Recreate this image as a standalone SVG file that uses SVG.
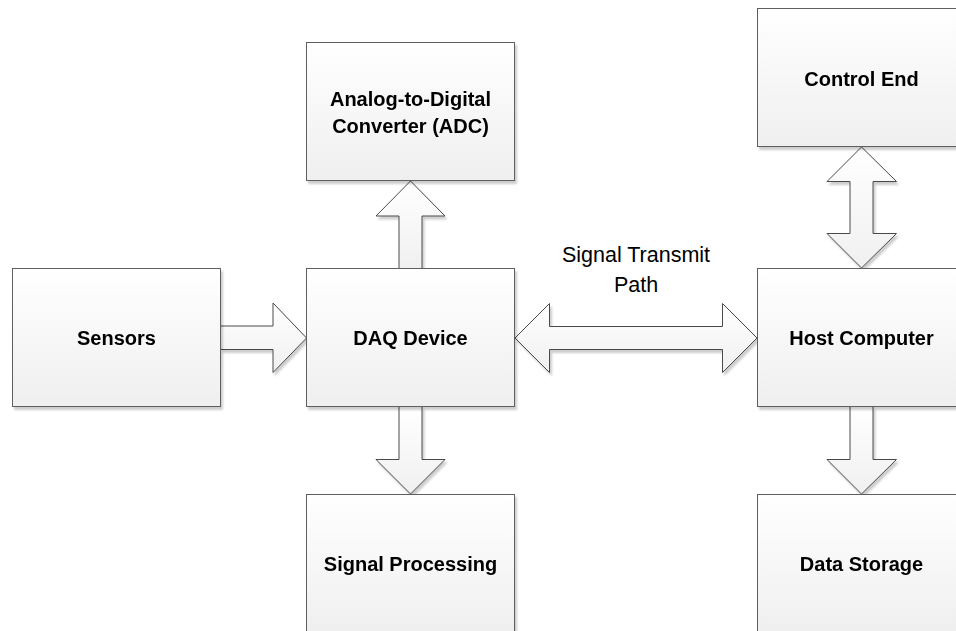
<svg xmlns="http://www.w3.org/2000/svg" width="956" height="631" viewBox="0 0 956 631">
  <defs>
    <linearGradient id="fillGrad" x1="0" y1="0" x2="0" y2="1">
      <stop offset="0" stop-color="#ffffff"/>
      <stop offset="1" stop-color="#efefef"/>
    </linearGradient>
    <linearGradient id="arrowGradH" x1="0" y1="0" x2="0" y2="1">
      <stop offset="0" stop-color="#ffffff"/>
      <stop offset="1" stop-color="#f0f0f0"/>
    </linearGradient>
    <filter id="shadow" x="-5%" y="-5%" width="115%" height="115%">
      <feGaussianBlur in="SourceAlpha" stdDeviation="1.2"/>
      <feOffset dx="2" dy="2.5" result="blur"/>
      <feComponentTransfer>
        <feFuncA type="linear" slope="0.2"/>
      </feComponentTransfer>
      <feMerge>
        <feMergeNode/>
        <feMergeNode in="SourceGraphic"/>
      </feMerge>
    </filter>
  </defs>
  <style>
    .box { fill: url(#fillGrad); stroke: #5e5e5e; stroke-width: 1; }
    .arrow { fill: url(#arrowGradH); stroke: #4a4a4a; stroke-width: 1; stroke-linejoin: miter; }
    .label { font-family: "Liberation Sans", Arial, sans-serif; font-weight: bold; font-size: 20px; fill: #000000; text-anchor: middle; }
    .note { font-family: "Liberation Sans", Arial, sans-serif; font-size: 21.5px; fill: #000000; text-anchor: middle; }
  </style>
  <rect width="956" height="631" fill="#ffffff"/>

  <!-- block arrows -->
  <g id="connectors" filter="url(#shadow)">
    <!-- Sensors to DAQ Device -->
    <path class="arrow" d="M220.5,326 H273 V303 L306.5,338 L273,372.5 V349.5 H220.5"/>
    <!-- DAQ Device up to ADC -->
    <path class="arrow" d="M399,268.5 V216 H376 L410.5,181 L445,216 H422 V268.5"/>
    <!-- DAQ Device down to Signal Processing -->
    <path class="arrow" d="M399,406.5 V459.5 H376 L410.5,494 L445,459.5 H422 V406.5"/>
    <!-- DAQ Device to Host Computer, both ways -->
    <path class="arrow" d="M515,338 L549.5,303.5 V326.5 H722.5 V303.5 L757,338 L722.5,372.5 V349.5 H549.5 V372.5 Z"/>
    <!-- Control End to Host Computer, both ways -->
    <path class="arrow" d="M861.5,147 L896.5,181.5 H873 V233.5 H896.5 L861.5,268 L827,233.5 H850 V181.5 H827 Z"/>
    <!-- Host Computer down to Data Storage -->
    <path class="arrow" d="M850,406.5 V459.5 H827 L861.5,494 L896.5,459.5 H873 V406.5"/>
  </g>

  <g id="sensors" filter="url(#shadow)">
    <rect class="box" x="12.5" y="268.5" width="208" height="138"/>
    <text class="label" x="116.5" y="345">Sensors</text>
  </g>

  <g id="daq-device" filter="url(#shadow)">
    <rect class="box" x="306.5" y="268.5" width="208" height="138"/>
    <text class="label" x="410.5" y="345">DAQ Device</text>
  </g>

  <g id="adc" filter="url(#shadow)">
    <rect class="box" x="306.5" y="42.5" width="208" height="138"/>
    <text class="label" x="410.5" y="106">Analog-to-Digital</text>
    <text class="label" x="410.5" y="133">Converter (ADC)</text>
  </g>

  <g id="signal-processing" filter="url(#shadow)">
    <rect class="box" x="306.5" y="494.5" width="208" height="138"/>
    <text class="label" x="410.5" y="571">Signal Processing</text>
  </g>

  <g id="control-end" filter="url(#shadow)">
    <rect class="box" x="757.5" y="8.5" width="208" height="138"/>
    <text class="label" x="861.5" y="86">Control End</text>
  </g>

  <g id="host-computer" filter="url(#shadow)">
    <rect class="box" x="757.5" y="268.5" width="208" height="138"/>
    <text class="label" x="861.5" y="345">Host Computer</text>
  </g>

  <g id="data-storage" filter="url(#shadow)">
    <rect class="box" x="757.5" y="494.5" width="208" height="138"/>
    <text class="label" x="861.5" y="571">Data Storage</text>
  </g>

  <g id="path-label">
    <text class="note" x="636" y="262">Signal Transmit</text>
    <text class="note" x="636" y="292">Path</text>
  </g>
</svg>
